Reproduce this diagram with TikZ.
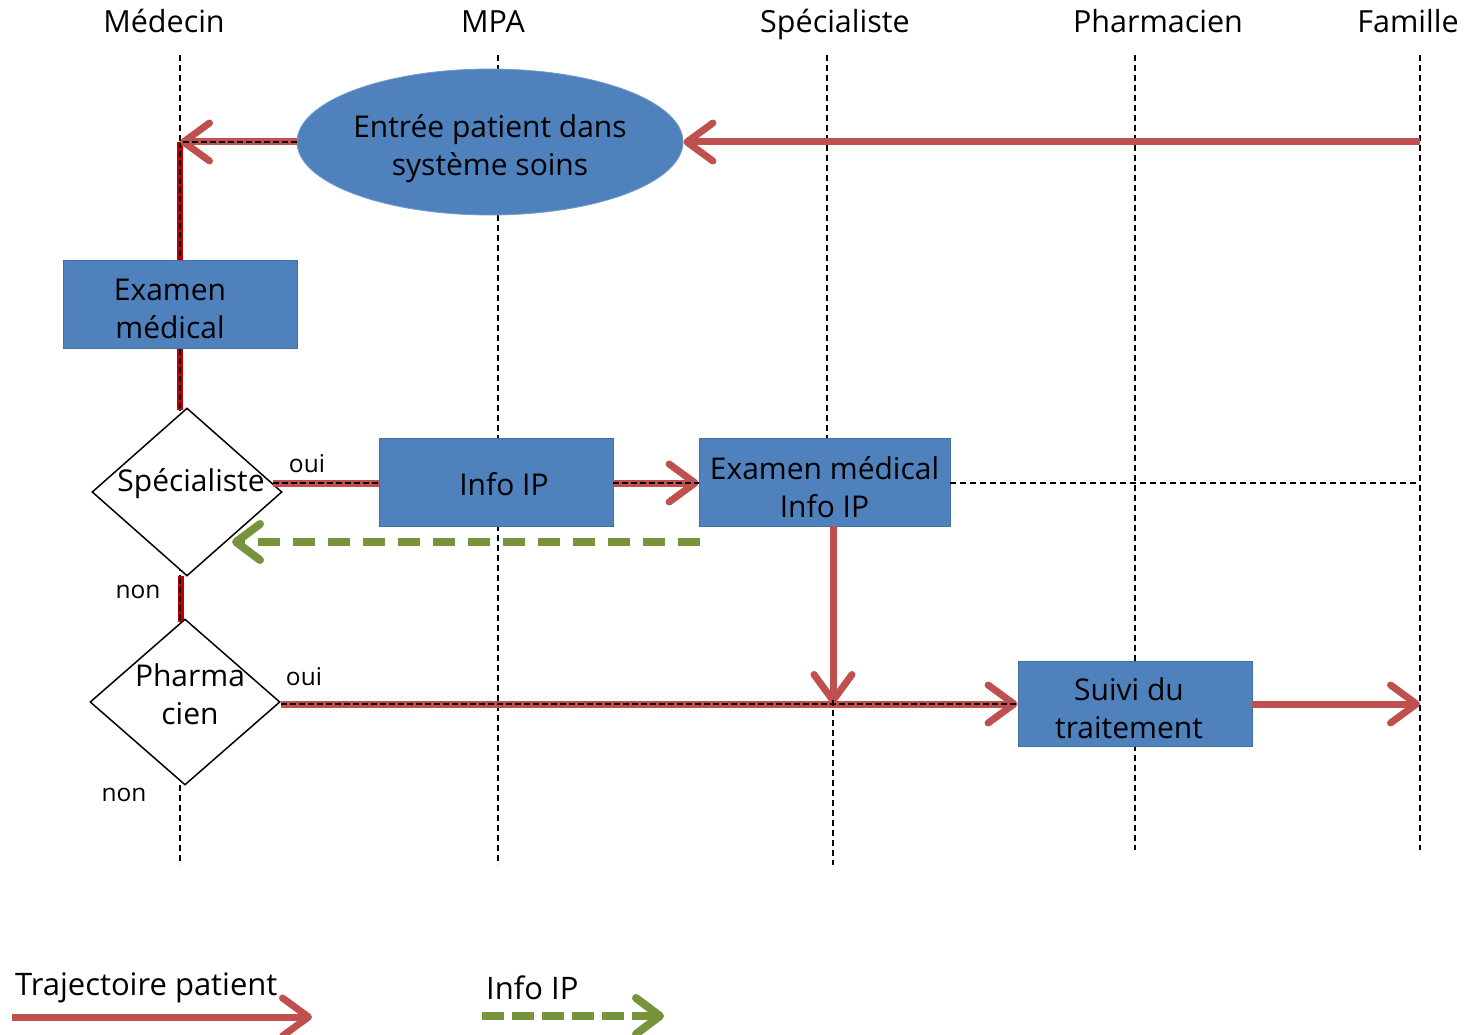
\documentclass[tikz,border=0pt]{standalone}
\usepackage{fontspec}
\setmainfont{Open Sans}
\usetikzlibrary{shapes.geometric,arrows.meta}
\definecolor{boxblue}{HTML}{4F81BD}
\definecolor{boxedge}{HTML}{41719C}
\definecolor{pathred}{HTML}{C0504D}
\definecolor{darkred}{HTML}{C00000}
\definecolor{infogreen}{HTML}{77933C}
\begin{document}
\begin{tikzpicture}[x=1pt,y=-1pt,
  lane/.style={draw=black, line width=1.6pt, dash pattern=on 6pt off 4pt},
  overdash/.style={draw=black, line width=1.6pt, dash pattern=on 6pt off 3pt},
  hdr/.style={font=\fontsize{30.5}{34}\selectfont, inner sep=0pt, anchor=base},
  box/.style={rectangle, fill=boxblue, draw=boxedge, line width=0.8pt, inner sep=0pt},
  diam/.style={diamond, draw=black, line width=1.5pt, fill=white, inner sep=0pt},
  lbl/.style={font=\fontsize{30}{38}\selectfont, align=center, inner sep=0pt},
  small/.style={font=\fontsize{24.5}{28}\selectfont, inner sep=0pt},
  redpath/.style={draw=pathred, line width=7pt},
  darkpath/.style={draw=darkred, line width=6pt},
  greenpath/.style={draw=infogreen, line width=8pt, dash pattern=on 22pt off 13pt},
  chev/.style={-{Straight Barb[length=26pt,width=38pt,round]}},
  gchev/.style={-{Straight Barb[length=24pt,width=36pt,round]}}
]
\useasboundingbox (0,0) rectangle (1466,1035);

% headers
\node[hdr] (hMed) at (164,33) {Médecin};
\node[hdr] (hMPA) at (493,33) {MPA};
\node[hdr] (hSpe) at (835,33) {Spécialiste};
\node[hdr] (hPha) at (1158,33) {Pharmacien};
\node[hdr] (hFam) at (1408,33) {Famille};

% lane coordinates
\coordinate (medT) at (180,55);  \coordinate (medB) at (180,865);
\coordinate (mpaT) at (498,55);  \coordinate (mpaB) at (498,865);
\coordinate (speT) at (827,55);  \coordinate (speM) at (827,440);
\coordinate (speL) at (833,700); \coordinate (speB) at (833,865);
\coordinate (phaT) at (1135,55); \coordinate (phaB) at (1135,850);
\coordinate (famT) at (1420,55); \coordinate (famB) at (1420,850);

\draw[lane] (medT) -- (medB);
\draw[lane] (mpaT) -- (mpaB);
\draw[lane] (speT) -- (speM);
\draw[lane] (speL) -- (speB);
\draw[lane] (phaT) -- (phaB);
\draw[lane] (famT) -- (famB);

\coordinate (fam142) at (1420,142);
\coordinate (med142) at (180,142);
\coordinate (famSv) at (1420,704);
\coordinate (exOut) at (833,526);
\coordinate (gStart) at (700,542);
\coordinate (gEnd) at (232,542);

% vertical red paths on the Medecin lane (behind boxes and diamonds)
\draw[darkpath] (med142) -- (med142 |- 0,410);
\draw[darkpath] (181,576) -- (181,622);
\draw[overdash] (med142) -- (180,408);
\draw[overdash] (180,578) -- (180,620);

% nodes
\node[ellipse, fill=boxblue, draw=boxblue!80!white, line width=0.8pt, minimum width=386pt, minimum height=146pt, inner sep=0pt,
  label={[lbl, yshift=-7pt]center:{Entrée patient dans\\système soins}}] (ell) at (490,142) {};
\node[box, minimum width=234pt, minimum height=88pt,
  label={[lbl, yshift=-4pt, xshift=-10pt]center:{Examen\\médical}}] (exa) at (180,304.5) {};
\node[box, minimum width=234pt, minimum height=88pt,
  label={[lbl, yshift=-2pt, xshift=8pt]center:{Info IP}}] (ip) at (496,482) {};
\node[box, minimum width=251pt, minimum height=88pt,
  label={[lbl, yshift=-5pt]center:{Examen médical\\Info IP}}] (ex) at (824.5,482) {};
\node[box, minimum width=234pt, minimum height=85pt,
  label={[lbl, yshift=-5pt, xshift=-6pt]center:{Suivi du\\traitement}}] (sv) at (1135,703.5) {};

\node[diam, minimum width=190pt, minimum height=168pt] (d1) at (187,492) {};
\node[lbl] (d1t) at (191,484) {Spécialiste};
\node[diam, minimum width=190pt, minimum height=166pt] (d2) at (185,702) {};
\node[lbl] (d2t) at (190,694) {Pharma\\cien};

\draw[redpath, chev] (fam142) -- (ell.east |- fam142);
\draw[redpath, chev] (ell.west |- med142) -- (med142);
\draw[overdash] (ell.west |- med142) -- (med142);

\draw[redpath] (d1.6 |- 0,483) -- (ip.west |- 0,483);
\draw[overdash] (d1.6 |- 0,483) -- (ip.west |- 0,483);
\draw[redpath, chev] (ip.east |- 0,483) -- (ex.west |- 0,483);
\draw[overdash] (ip.east |- 0,483) -- (ex.west |- 0,483);
\draw[lane] (ex.east |- 0,483) -- (famT |- 0,483);

\draw[redpath, chev] (d2.east |- 0,704) -- (sv.west |- 0,704);
\draw[overdash] (d2.east |- 0,704) -- (sv.west |- 0,704);
\draw[redpath, chev] (exOut) -- (exOut |- 0,704);
\draw[lane] (speL) -- (speB);
\draw[redpath, chev] (sv.east |- 0,704) -- (famSv);

\draw[greenpath, gchev] (gStart) -- (gEnd);

% labels
\node[small] (oui1) at (307,464) {oui};
\node[small] (non1) at (138,592) {non};
\node[small] (oui2) at (304,677) {oui};
\node[small] (non2) at (124,795) {non};

% legend
\node[lbl, anchor=west, font=\fontsize{31}{38}\selectfont] (legT) at (15,988) {Trajectoire patient};
\coordinate (legTs) at (12,1017);
\coordinate (legTe) at (312,1017);
\draw[redpath, chev] (legTs) -- (legTe);
\node[lbl, anchor=west, font=\fontsize{31}{38}\selectfont] (legI) at (486,988) {Info IP};
\coordinate (legIs) at (482,1016);
\coordinate (legIe) at (664,1016);
\draw[greenpath, dash pattern=on 22pt off 8pt, gchev] (legIs) -- (legIe);
\end{tikzpicture}
\end{document}
